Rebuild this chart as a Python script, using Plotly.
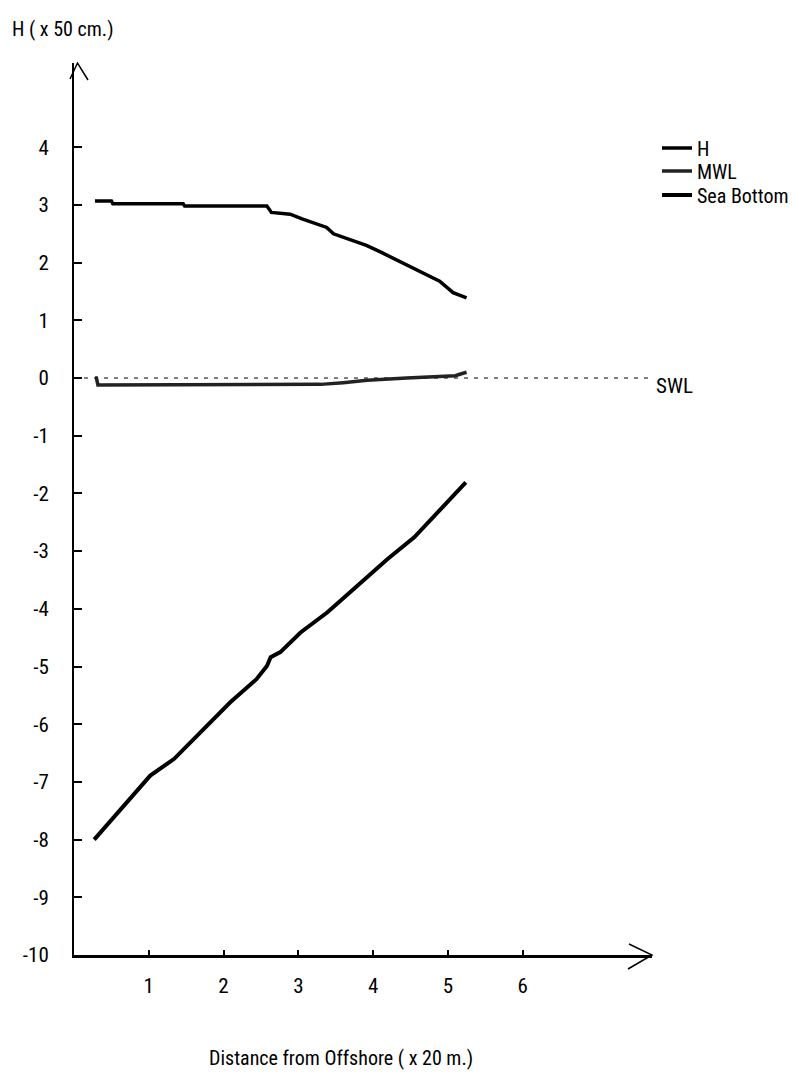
import plotly.graph_objects as go

# ---- data ----
h_x = [0.28, 0.50, 0.52, 1.46, 1.48, 2.58, 2.64, 2.89, 3.05, 3.38, 3.47, 3.91, 4.09, 4.45, 4.89, 5.07, 5.25]
h_y = [3.07, 3.07, 3.02, 3.02, 2.98, 2.98, 2.87, 2.84, 2.76, 2.61, 2.50, 2.30, 2.19, 1.96, 1.68, 1.48, 1.39]

mwl_x = [0.28, 0.30, 0.32, 1.50, 2.50, 3.30, 3.60, 3.92, 4.45, 4.90, 5.10, 5.17, 5.25]
mwl_y = [0.00, 0.00, -0.12, -0.12, -0.12, -0.11, -0.08, -0.04, 0.00, 0.03, 0.04, 0.07, 0.10]

bot_x = [0.27, 0.80, 1.02, 1.34, 1.87, 2.09, 2.44, 2.58, 2.63, 2.76, 3.03, 3.39, 3.79, 4.19, 4.55, 4.90, 5.24]
bot_y = [-8.00, -7.21, -6.89, -6.60, -5.91, -5.62, -5.22, -4.99, -4.84, -4.75, -4.41, -4.06, -3.60, -3.14, -2.76, -2.27, -1.81]

swl_x = [0.0, 7.70]
swl_y = [0.0, 0.0]

y_ticks = list(range(-10, 5))
y_labels = [str(v) for v in y_ticks]  # plain hyphen minus
x_ticks = [1, 2, 3, 4, 5, 6]
x_labels = [str(v) for v in x_ticks]

FONT = "Roboto Condensed, DejaVu Sans, sans-serif"

# ---- layout geometry (pixels) ----
W, H = 796, 1076
ML, MT = 74, 63
PW, PH = 578, 892


def px(xp):
    return (xp - ML) / PW


def py(yp):
    return 1 - (yp - MT) / PH


def cx(xp):
    return xp / W


def cy(yp):
    return 1 - yp / H


fig = go.Figure()

fig.add_trace(go.Scatter(x=swl_x, y=swl_y, mode="lines", showlegend=False,
                         line=dict(color="black", width=1, dash="4px,6px"), hoverinfo="skip"))
fig.add_trace(go.Scatter(x=h_x, y=h_y, mode="lines", name="H", legend="legend",
                         line=dict(color="black", width=3.5)))
fig.add_trace(go.Scatter(x=mwl_x, y=mwl_y, mode="lines", name="MWL", legend="legend2",
                         line=dict(color="#222222", width=3.5)))
fig.add_trace(go.Scatter(x=bot_x, y=bot_y, mode="lines", name="Sea Bottom", legend="legend3",
                         line=dict(color="black", width=4)))

# axis arrowheads
shapes = [
    dict(type="path", xref="paper", yref="paper",
         path=f"M {px(70)},{py(79)} L {px(77.5)},{py(63)} L {px(88)},{py(80)}",
         line=dict(color="black", width=1.5)),
    dict(type="path", xref="paper", yref="paper",
         path=f"M {px(629)},{py(944)} L {px(652)},{py(955)} L {px(628)},{py(969)}",
         line=dict(color="black", width=1.5)),
]

annotations = [
    dict(text="H ( x 50 cm.)", xref="paper", yref="paper", x=px(10), y=py(29),
         xanchor="left", yanchor="middle", showarrow=False,
         font=dict(family=FONT, size=20, color="black")),
    dict(text="Distance from Offshore ( x 20 m.)", xref="paper", yref="paper",
         x=px(341), y=py(1058), xanchor="center", yanchor="middle", showarrow=False,
         font=dict(family=FONT, size=20, color="black")),
    dict(text="SWL", xref="paper", yref="paper", x=px(654), y=py(386),
         xanchor="left", yanchor="middle", showarrow=False,
         font=dict(family=FONT, size=21, color="black")),
]

leg_common = dict(xref="container", yref="container", xanchor="left", yanchor="middle",
                  bgcolor="rgba(0,0,0,0)", font=dict(family=FONT, size=20),
                  itemwidth=30, borderwidth=0)

fig.update_layout(
    width=W, height=H,
    margin=dict(l=ML, r=W - ML - PW, t=MT, b=H - MT - PH, pad=0, autoexpand=False),
    paper_bgcolor="white", plot_bgcolor="white",
    font=dict(family=FONT, size=21, color="black"),
    showlegend=True,
    legend=dict(x=cx(657), y=cy(148), **leg_common),
    legend2=dict(x=cx(657), y=cy(171), **leg_common),
    legend3=dict(x=cx(657), y=cy(195), **leg_common),
    shapes=shapes,
    annotations=annotations,
)

fig.update_xaxes(range=[0, 7.73], showgrid=False, zeroline=False, automargin=False,
                 showline=True, linecolor="black", linewidth=3,
                 ticks="inside", ticklen=5, tickwidth=1.5, tickcolor="black",
                 tickvals=x_ticks, ticktext=x_labels, ticklabelstandoff=10,
                 tickfont=dict(family=FONT, size=21))
fig.update_yaxes(range=[-10, 5.46], showgrid=False, zeroline=False, automargin=False,
                 showline=True, linecolor="black", linewidth=2,
                 ticks="inside", ticklen=8, tickwidth=1.5, tickcolor="black",
                 tickvals=y_ticks, ticktext=y_labels, ticklabelstandoff=19,
                 tickfont=dict(family=FONT, size=21))

fig.write_html("out.html", config={"displayModeBar": False},
               post_script="document.body.style.margin='0';")
